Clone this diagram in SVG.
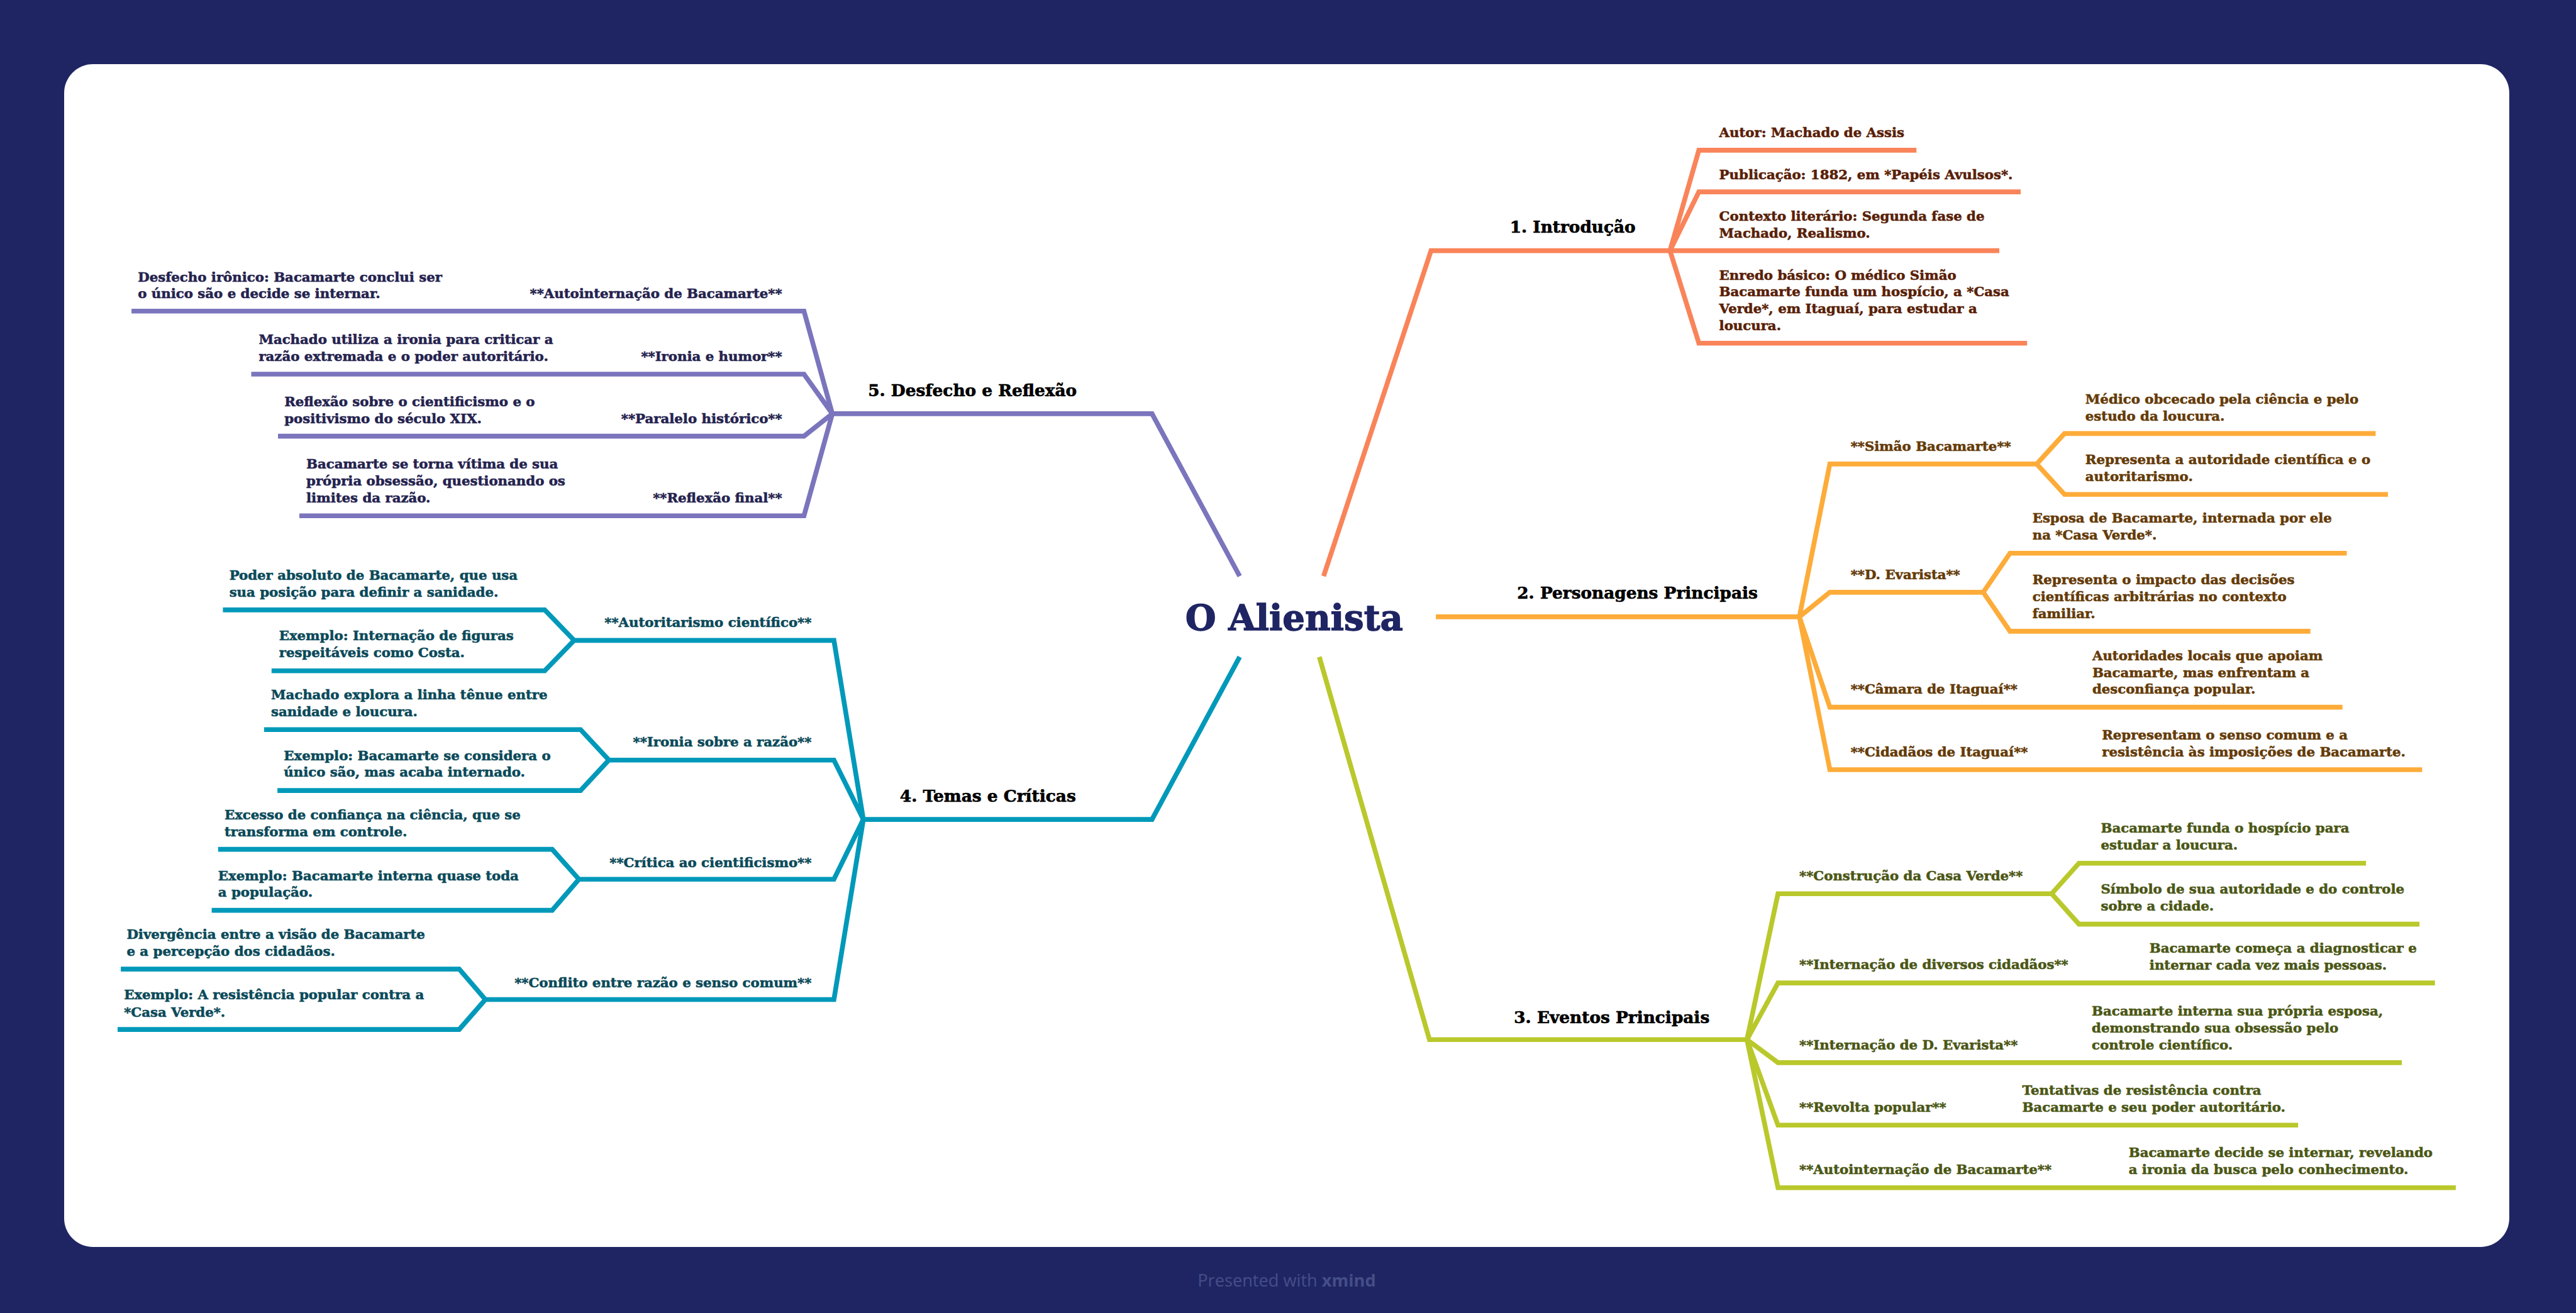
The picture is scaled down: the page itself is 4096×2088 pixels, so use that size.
<svg xmlns="http://www.w3.org/2000/svg" width="4096" height="2088" viewBox="0 0 4096 2088">
<style>
.ln{fill:none;stroke-width:9;stroke-linejoin:miter;stroke-linecap:butt}
.o{stroke:#F9845A}.y{stroke:#FDAC3A}.g{stroke:#B9C82B}.t{stroke:#0099BA}.p{stroke:#7B75BD}
text{font-family:"DejaVu Serif","Liberation Serif",serif;font-weight:bold}
.tx{font-size:25px;stroke-width:0.7}
.top{font-size:31px;fill:#000000;stroke:#000000;stroke-width:0.8;text-anchor:middle}
.end{text-anchor:end}
.co{fill:#5A1F08;stroke:#5A1F08}.cy{fill:#653B08;stroke:#653B08}.cg{fill:#4B5715;stroke:#4B5715}.ct{fill:#0B4A5A;stroke:#0B4A5A}.cp{fill:#25234F;stroke:#25234F}
</style>
<rect x="0" y="0" width="4096" height="2088" fill="#1F2563"/>
<g transform="scale(0.85)">
<rect x="120" y="120" width="4574" height="2213" rx="54" fill="#FFFFFF"/>
<g id="connectors">
<path class="ln o" d="M2476,1078 L2677,469 L3124,469"/>
<path class="ln o" d="M3124,469 L3178,281 L3585,281"/>
<path class="ln o" d="M3124,469 L3178,359 L3780,359"/>
<path class="ln o" d="M3124,469 L3740,469"/>
<path class="ln o" d="M3124,469 L3178,642 L3792,642"/>
<path class="ln y" d="M2686,1154 L3366,1154"/>
<path class="ln y" d="M3366,1154 L3423,868 L3810,868"/>
<path class="ln y" d="M3810,868 L3862,811 L4444,811"/>
<path class="ln y" d="M3810,868 L3862,925 L4467,925"/>
<path class="ln y" d="M3366,1154 L3423,1108 L3710,1108"/>
<path class="ln y" d="M3710,1108 L3760,1035 L4390,1035"/>
<path class="ln y" d="M3710,1108 L3760,1181 L4322,1181"/>
<path class="ln y" d="M3366,1154 L3423,1323 L4382,1323"/>
<path class="ln y" d="M3366,1154 L3423,1440 L4531,1440"/>
<path class="ln g" d="M2468,1229 L2674,1945 L3268,1945"/>
<path class="ln g" d="M3268,1945 L3326,1672 L3838,1672"/>
<path class="ln g" d="M3838,1672 L3889,1615 L4426,1615"/>
<path class="ln g" d="M3838,1672 L3889,1729 L4526,1729"/>
<path class="ln g" d="M3268,1945 L3326,1839 L4555,1839"/>
<path class="ln g" d="M3268,1945 L3326,1988 L4493,1988"/>
<path class="ln g" d="M3268,1945 L3326,2105 L4299,2105"/>
<path class="ln g" d="M3268,1945 L3326,2222 L4594,2222"/>
<path class="ln t" d="M2319,1229 L2155,1533 L1615,1533"/>
<path class="ln t" d="M1615,1533 L1560,1198 L1074,1198"/>
<path class="ln t" d="M1074,1198 L1019,1141 L417,1141"/>
<path class="ln t" d="M1074,1198 L1019,1255 L508,1255"/>
<path class="ln t" d="M1615,1533 L1560,1422 L1139,1422"/>
<path class="ln t" d="M1139,1422 L1086,1365 L494,1365"/>
<path class="ln t" d="M1139,1422 L1086,1479 L519,1479"/>
<path class="ln t" d="M1615,1533 L1560,1645 L1083,1645"/>
<path class="ln t" d="M1083,1645 L1033,1589 L408,1589"/>
<path class="ln t" d="M1083,1645 L1033,1703 L396,1703"/>
<path class="ln t" d="M1615,1533 L1560,1870 L908,1870"/>
<path class="ln t" d="M908,1870 L859,1813 L226,1813"/>
<path class="ln t" d="M908,1870 L859,1926 L220,1926"/>
<path class="ln p" d="M2319,1078 L2155,774 L1557,774"/>
<path class="ln p" d="M1557,774 L1504,582 L246,582"/>
<path class="ln p" d="M1557,774 L1504,700 L470,700"/>
<path class="ln p" d="M1557,774 L1504,816 L520,816"/>
<path class="ln p" d="M1557,774 L1504,965 L560,965"/>
</g>
<g id="root"><text x="2421" y="1179" font-size="66" fill="#1F2563" stroke="#1F2563" stroke-width="1.6" text-anchor="middle">O Alienista</text></g>

<g id="t1"><text class="top" x="2942" y="435">1. Introdução</text></g>
<g id="t1-1"><text class="tx co" x="3216" y="257">Autor: Machado de Assis</text></g>
<g id="t1-2"><text class="tx co" x="3216" y="335">Publicação: 1882, em *Papéis Avulsos*.</text></g>
<g id="t1-3"><text class="tx co"><tspan x="3216" y="413">Contexto literário: Segunda fase de</tspan><tspan x="3216" y="445">Machado, Realismo.</tspan></text></g>
<g id="t1-4"><text class="tx co"><tspan x="3216" y="523">Enredo básico: O médico Simão</tspan><tspan x="3216" y="554">Bacamarte funda um hospício, a *Casa</tspan><tspan x="3216" y="586">Verde*, em Itaguaí, para estudar a</tspan><tspan x="3216" y="618">loucura.</tspan></text></g>

<g id="t2"><text class="top" x="3063" y="1120">2. Personagens Principais</text></g>
<g id="t2-1"><text class="tx cy" x="3462" y="843">**Simão Bacamarte**</text></g>
<g id="t2-1-1"><text class="tx cy"><tspan x="3901" y="755">Médico obcecado pela ciência e pelo</tspan><tspan x="3901" y="787">estudo da loucura.</tspan></text></g>
<g id="t2-1-2"><text class="tx cy"><tspan x="3901" y="868">Representa a autoridade científica e o</tspan><tspan x="3901" y="900">autoritarismo.</tspan></text></g>
<g id="t2-2"><text class="tx cy" x="3462" y="1083">**D. Evarista**</text></g>
<g id="t2-2-1"><text class="tx cy"><tspan x="3802" y="978">Esposa de Bacamarte, internada por ele</tspan><tspan x="3802" y="1010">na *Casa Verde*.</tspan></text></g>
<g id="t2-2-2"><text class="tx cy"><tspan x="3802" y="1093">Representa o impacto das decisões</tspan><tspan x="3802" y="1125">científicas arbitrárias no contexto</tspan><tspan x="3802" y="1157">familiar.</tspan></text></g>
<g id="t2-3"><text class="tx cy" x="3462" y="1298">**Câmara de Itaguaí**</text></g>
<g id="t2-3-1"><text class="tx cy"><tspan x="3914" y="1235">Autoridades locais que apoiam</tspan><tspan x="3914" y="1267">Bacamarte, mas enfrentam a</tspan><tspan x="3914" y="1298">desconfiança popular.</tspan></text></g>
<g id="t2-4"><text class="tx cy" x="3462" y="1415">**Cidadãos de Itaguaí**</text></g>
<g id="t2-4-1"><text class="tx cy"><tspan x="3932" y="1383">Representam o senso comum e a</tspan><tspan x="3932" y="1415">resistência às imposições de Bacamarte.</tspan></text></g>

<g id="t3"><text class="top" x="3015" y="1914">3. Eventos Principais</text></g>
<g id="t3-1"><text class="tx cg" x="3366" y="1647">**Construção da Casa Verde**</text></g>
<g id="t3-1-1"><text class="tx cg"><tspan x="3930" y="1558">Bacamarte funda o hospício para</tspan><tspan x="3930" y="1590">estudar a loucura.</tspan></text></g>
<g id="t3-1-2"><text class="tx cg"><tspan x="3930" y="1672">Símbolo de sua autoridade e do controle</tspan><tspan x="3930" y="1704">sobre a cidade.</tspan></text></g>
<g id="t3-2"><text class="tx cg" x="3366" y="1813">**Internação de diversos cidadãos**</text></g>
<g id="t3-2-1"><text class="tx cg"><tspan x="4021" y="1782">Bacamarte começa a diagnosticar e</tspan><tspan x="4021" y="1814">internar cada vez mais pessoas.</tspan></text></g>
<g id="t3-3"><text class="tx cg" x="3366" y="1963">**Internação de D. Evarista**</text></g>
<g id="t3-3-1"><text class="tx cg"><tspan x="3913" y="1900">Bacamarte interna sua própria esposa,</tspan><tspan x="3913" y="1932">demonstrando sua obsessão pelo</tspan><tspan x="3913" y="1963">controle científico.</tspan></text></g>
<g id="t3-4"><text class="tx cg" x="3366" y="2080">**Revolta popular**</text></g>
<g id="t3-4-1"><text class="tx cg"><tspan x="3783" y="2048">Tentativas de resistência contra</tspan><tspan x="3783" y="2080">Bacamarte e seu poder autoritário.</tspan></text></g>
<g id="t3-5"><text class="tx cg" x="3366" y="2197">**Autointernação de Bacamarte**</text></g>
<g id="t3-5-1"><text class="tx cg"><tspan x="3982" y="2165">Bacamarte decide se internar, revelando</tspan><tspan x="3982" y="2197">a ironia da busca pelo conhecimento.</tspan></text></g>

<g id="t4"><text class="top" x="1848" y="1500">4. Temas e Críticas</text></g>
<g id="t4-1"><text class="tx ct end" x="1518" y="1173">**Autoritarismo científico**</text></g>
<g id="t4-1-1"><text class="tx ct"><tspan x="429" y="1085">Poder absoluto de Bacamarte, que usa</tspan><tspan x="429" y="1117">sua posição para definir a sanidade.</tspan></text></g>
<g id="t4-1-2"><text class="tx ct"><tspan x="522" y="1198">Exemplo: Internação de figuras</tspan><tspan x="522" y="1230">respeitáveis como Costa.</tspan></text></g>
<g id="t4-2"><text class="tx ct end" x="1518" y="1397">**Ironia sobre a razão**</text></g>
<g id="t4-2-1"><text class="tx ct"><tspan x="507" y="1308">Machado explora a linha tênue entre</tspan><tspan x="507" y="1340">sanidade e loucura.</tspan></text></g>
<g id="t4-2-2"><text class="tx ct"><tspan x="531" y="1422">Exemplo: Bacamarte se considera o</tspan><tspan x="531" y="1453">único são, mas acaba internado.</tspan></text></g>
<g id="t4-3"><text class="tx ct end" x="1518" y="1622">**Crítica ao cientificismo**</text></g>
<g id="t4-3-1"><text class="tx ct"><tspan x="420" y="1533">Excesso de confiança na ciência, que se</tspan><tspan x="420" y="1565">transforma em controle.</tspan></text></g>
<g id="t4-3-2"><text class="tx ct"><tspan x="408" y="1647">Exemplo: Bacamarte interna quase toda</tspan><tspan x="408" y="1678">a população.</tspan></text></g>
<g id="t4-4"><text class="tx ct end" x="1518" y="1847">**Conflito entre razão e senso comum**</text></g>
<g id="t4-4-1"><text class="tx ct"><tspan x="237" y="1757">Divergência entre a visão de Bacamarte</tspan><tspan x="237" y="1788">e a percepção dos cidadãos.</tspan></text></g>
<g id="t4-4-2"><text class="tx ct"><tspan x="232" y="1870">Exemplo: A resistência popular contra a</tspan><tspan x="232" y="1902">*Casa Verde*.</tspan></text></g>

<g id="t5"><text class="top" x="1819" y="741">5. Desfecho e Reflexão</text></g>
<g id="t5-1"><text class="tx cp end" x="1463" y="558">**Autointernação de Bacamarte**</text></g>
<g id="t5-1-1"><text class="tx cp"><tspan x="258" y="527">Desfecho irônico: Bacamarte conclui ser</tspan><tspan x="258" y="558">o único são e decide se internar.</tspan></text></g>
<g id="t5-2"><text class="tx cp end" x="1463" y="675">**Ironia e humor**</text></g>
<g id="t5-2-1"><text class="tx cp"><tspan x="484" y="643">Machado utiliza a ironia para criticar a</tspan><tspan x="484" y="675">razão extremada e o poder autoritário.</tspan></text></g>
<g id="t5-3"><text class="tx cp end" x="1463" y="792">**Paralelo histórico**</text></g>
<g id="t5-3-1"><text class="tx cp"><tspan x="532" y="760">Reflexão sobre o cientificismo e o</tspan><tspan x="532" y="792">positivismo do século XIX.</tspan></text></g>
<g id="t5-4"><text class="tx cp end" x="1463" y="940">**Reflexão final**</text></g>
<g id="t5-4-1"><text class="tx cp"><tspan x="573" y="877">Bacamarte se torna vítima de sua</tspan><tspan x="573" y="908">própria obsessão, questionando os</tspan><tspan x="573" y="940">limites da razão.</tspan></text></g>

<g id="footer"><text x="2407" y="2407" text-anchor="middle" font-size="32" fill="#454E88" style="font-family:'Open Sans','Noto Sans',sans-serif;font-weight:normal">Presented with <tspan font-weight="bold">xmind</tspan></text></g>
</g>
</svg>
